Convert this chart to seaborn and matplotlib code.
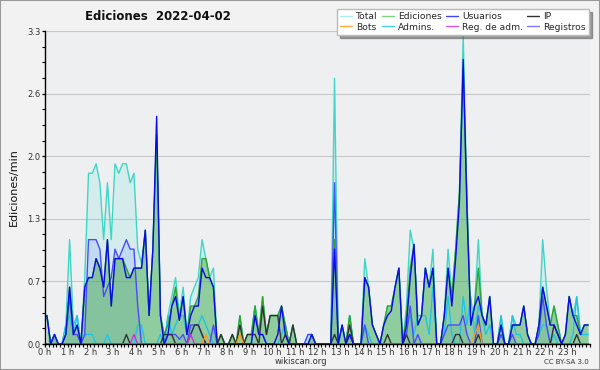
import numpy as np
import pandas as pd
import matplotlib
matplotlib.use("Agg")
import matplotlib.pyplot as plt
from matplotlib.lines import Line2D
from matplotlib.patches import Rectangle
from matplotlib.ticker import FixedLocator, MultipleLocator
import seaborn as sns

# 10-minute bins, 144 per day (values in edits/min)
total = [
    0.3, 0.0, 0.1, 0.0, 0.0, 0.2,
    1.1, 0.2, 0.3, 0.0, 0.7, 1.8,
    1.8, 1.9, 1.7, 1.1, 1.7, 1.1,
    1.9, 1.8, 1.9, 1.9, 1.7, 1.8,
    1.0, 0.85, 1.2, 0.3, 1.0, 2.2,
    0.3, 0.0, 0.3, 0.5, 0.7, 0.3,
    0.6, 0.1, 0.5, 0.6, 0.7, 1.1,
    0.9, 0.7, 0.8, 0.0, 0.1, 0.0,
    0.0, 0.1, 0.0, 0.3, 0.0, 0.1,
    0.1, 0.4, 0.1, 0.5, 0.1, 0.3,
    0.3, 0.3, 0.4, 0.2, 0.0, 0.2,
    0.0, 0.0, 0.0, 0.1, 0.1, 0.0,
    0.0, 0.0, 0.0, 0.0, 2.8, 0.0,
    0.2, 0.0, 0.3, 0.0, 0.0, 0.0,
    0.9, 0.6, 0.2, 0.1, 0.0, 0.2,
    0.4, 0.4, 0.6, 0.8, 0.0, 0.4,
    1.2, 1.0, 0.3, 0.3, 0.8, 0.6,
    1.0, 0.0, 0.0, 0.3, 1.0, 0.5,
    1.0, 1.6, 3.25, 1.5, 0.2, 0.4,
    1.1, 0.3, 0.2, 0.5, 0.0, 0.0,
    0.3, 0.0, 0.0, 0.3, 0.2, 0.2,
    0.4, 0.1, 0.0, 0.0, 0.2, 1.1,
    0.6, 0.2, 0.4, 0.2, 0.0, 0.1,
    0.5, 0.3, 0.5, 0.1, 0.2, 0.2,
]
ediciones = [
    0.3, 0.0, 0.1, 0.0, 0.0, 0.1,
    0.6, 0.1, 0.2, 0.0, 0.6, 0.7,
    0.7, 0.9, 0.8, 0.6, 1.1, 0.4,
    0.9, 0.9, 0.9, 0.8, 0.7, 0.8,
    0.8, 0.8, 1.2, 0.3, 1.0, 2.2,
    0.3, 0.1, 0.2, 0.4, 0.6, 0.25,
    0.5, 0.1, 0.4, 0.4, 0.5, 0.9,
    0.9, 0.7, 0.6, 0.0, 0.1, 0.0,
    0.0, 0.1, 0.0, 0.3, 0.0, 0.1,
    0.1, 0.4, 0.1, 0.5, 0.1, 0.3,
    0.3, 0.3, 0.4, 0.2, 0.0, 0.2,
    0.0, 0.0, 0.0, 0.0, 0.1, 0.0,
    0.0, 0.0, 0.0, 0.0, 1.1, 0.0,
    0.2, 0.0, 0.3, 0.0, 0.0, 0.0,
    0.7, 0.6, 0.2, 0.1, 0.0, 0.2,
    0.4, 0.4, 0.6, 0.8, 0.0, 0.3,
    0.8, 1.05, 0.2, 0.3, 0.8, 0.6,
    0.8, 0.0, 0.0, 0.3, 0.8, 0.5,
    1.0, 1.6, 2.9, 1.5, 0.2, 0.4,
    0.8, 0.3, 0.2, 0.5, 0.0, 0.0,
    0.2, 0.0, 0.0, 0.2, 0.2, 0.2,
    0.4, 0.1, 0.0, 0.0, 0.2, 0.6,
    0.4, 0.2, 0.4, 0.2, 0.0, 0.1,
    0.5, 0.3, 0.3, 0.1, 0.2, 0.2,
]
usuarios = [
    0.3, 0.0, 0.1, 0.0, 0.0, 0.1,
    0.6, 0.1, 0.2, 0.0, 0.6, 0.7,
    0.7, 0.9, 0.8, 0.6, 1.1, 0.4,
    0.9, 0.9, 0.9, 0.7, 0.7, 0.8,
    0.8, 0.8, 1.2, 0.3, 1.0, 2.4,
    0.3, 0.0, 0.1, 0.4, 0.5, 0.25,
    0.5, 0.1, 0.3, 0.4, 0.4, 0.8,
    0.7, 0.7, 0.6, 0.0, 0.0, 0.0,
    0.0, 0.0, 0.0, 0.0, 0.0, 0.0,
    0.0, 0.3, 0.1, 0.1, 0.0, 0.0,
    0.0, 0.1, 0.4, 0.1, 0.0, 0.0,
    0.0, 0.0, 0.0, 0.0, 0.1, 0.0,
    0.0, 0.0, 0.0, 0.0, 1.0, 0.0,
    0.2, 0.0, 0.1, 0.0, 0.0, 0.0,
    0.7, 0.6, 0.2, 0.1, 0.0, 0.2,
    0.3, 0.35, 0.6, 0.8, 0.0, 0.2,
    0.7, 1.05, 0.2, 0.3, 0.8, 0.6,
    0.8, 0.0, 0.0, 0.3, 0.8, 0.4,
    0.9, 1.5, 3.0, 1.4, 0.2, 0.4,
    0.5, 0.3, 0.2, 0.5, 0.0, 0.0,
    0.2, 0.0, 0.0, 0.2, 0.2, 0.2,
    0.4, 0.1, 0.0, 0.0, 0.2, 0.6,
    0.4, 0.2, 0.2, 0.1, 0.0, 0.1,
    0.5, 0.3, 0.2, 0.1, 0.2, 0.2,
]
ip = [
    0.0, 0.0, 0.0, 0.0, 0.0, 0.0,
    0.0, 0.0, 0.0, 0.0, 0.0, 0.0,
    0.0, 0.0, 0.0, 0.0, 0.0, 0.0,
    0.0, 0.0, 0.0, 0.1, 0.0, 0.0,
    0.0, 0.0, 0.0, 0.0, 0.0, 0.0,
    0.0, 0.1, 0.1, 0.1, 0.0, 0.0,
    0.0, 0.0, 0.1, 0.2, 0.2, 0.1,
    0.0, 0.0, 0.0, 0.0, 0.1, 0.0,
    0.0, 0.1, 0.0, 0.2, 0.0, 0.1,
    0.1, 0.1, 0.0, 0.4, 0.1, 0.3,
    0.3, 0.3, 0.0, 0.1, 0.0, 0.2,
    0.0, 0.0, 0.0, 0.0, 0.0, 0.0,
    0.0, 0.0, 0.0, 0.0, 0.1, 0.0,
    0.0, 0.0, 0.2, 0.0, 0.0, 0.0,
    0.0, 0.0, 0.0, 0.0, 0.0, 0.0,
    0.1, 0.0, 0.0, 0.0, 0.0, 0.1,
    0.0, 0.0, 0.0, 0.0, 0.0, 0.0,
    0.0, 0.0, 0.0, 0.0, 0.0, 0.0,
    0.1, 0.1, 0.0, 0.0, 0.0, 0.0,
    0.1, 0.0, 0.0, 0.0, 0.0, 0.0,
    0.0, 0.0, 0.0, 0.0, 0.0, 0.0,
    0.0, 0.0, 0.0, 0.0, 0.0, 0.0,
    0.0, 0.0, 0.2, 0.1, 0.0, 0.0,
    0.0, 0.0, 0.1, 0.0, 0.0, 0.0,
]
bots = [0.0] * 42 + [0.1] + [0.0] * 8 + [0.1] + [0.0] * 61 + [0.1, 0.2] + [0.0] * 29
admins = [
    0.3, 0.0, 0.0, 0.0, 0.0, 0.2,
    0.3, 0.1, 0.3, 0.0, 0.1, 0.1,
    0.1, 0.0, 0.0, 0.0, 0.1, 0.0,
    0.0, 0.0, 0.0, 0.0, 0.0, 0.0,
    0.2, 0.2, 0.0, 0.0, 0.0, 0.0,
    0.1, 0.0, 0.3, 0.1, 0.2, 0.3,
    0.3, 0.1, 0.1, 0.2, 0.2, 0.3,
    0.2, 0.1, 0.0, 0.0, 0.0, 0.0,
    0.0, 0.0, 0.0, 0.0, 0.0, 0.0,
    0.0, 0.4, 0.1, 0.1, 0.0, 0.0,
    0.0, 0.0, 0.1, 0.2, 0.0, 0.0,
    0.0, 0.0, 0.0, 0.0, 0.0, 0.0,
    0.0, 0.0, 0.0, 0.0, 0.1, 0.0,
    0.0, 0.0, 0.3, 0.0, 0.0, 0.0,
    0.2, 0.1, 0.0, 0.0, 0.0, 0.0,
    0.0, 0.0, 0.0, 0.0, 0.0, 0.2,
    0.3, 0.1, 0.3, 0.3, 0.3, 0.1,
    0.6, 0.0, 0.0, 0.1, 0.5, 0.1,
    0.0, 0.0, 0.5, 0.2, 0.5, 0.1,
    0.4, 0.3, 0.1, 0.2, 0.0, 0.0,
    0.3, 0.0, 0.0, 0.3, 0.1, 0.1,
    0.0, 0.0, 0.0, 0.0, 0.1, 0.2,
    0.2, 0.0, 0.1, 0.0, 0.0, 0.0,
    0.0, 0.1, 0.5, 0.1, 0.1, 0.1,
]
reg_adm = [0.0] * 23 + [0.1] + [0.0] * 14 + [0.1] + [0.0] * 105
registros = [
    0.0, 0.0, 0.1, 0.0, 0.0, 0.1,
    0.5, 0.1, 0.1, 0.0, 0.1, 1.1,
    1.1, 1.1, 1.0, 0.5, 0.6, 0.7,
    1.0, 0.9, 1.0, 1.1, 1.0, 1.0,
    0.4, 0.0, 0.0, 0.0, 0.0, 0.0,
    0.0, 0.0, 0.1, 0.1, 0.1, 0.05,
    0.1, 0.0, 0.2, 0.2, 0.2, 0.1,
    0.0, 0.0, 0.2, 0.0, 0.0, 0.0,
    0.0, 0.0, 0.0, 0.0, 0.0, 0.0,
    0.0, 0.0, 0.0, 0.0, 0.0, 0.0,
    0.0, 0.0, 0.0, 0.0, 0.0, 0.0,
    0.0, 0.0, 0.0, 0.1, 0.1, 0.0,
    0.0, 0.0, 0.0, 0.0, 1.7, 0.0,
    0.0, 0.0, 0.1, 0.0, 0.0, 0.0,
    0.2, 0.0, 0.0, 0.0, 0.0, 0.0,
    0.0, 0.0, 0.0, 0.0, 0.0, 0.1,
    0.4, 0.0, 0.1, 0.0, 0.0, 0.0,
    0.0, 0.0, 0.0, 0.1, 0.2, 0.2,
    0.2, 0.2, 0.3, 0.1, 0.0, 0.0,
    0.3, 0.0, 0.0, 0.0, 0.0, 0.0,
    0.1, 0.0, 0.0, 0.1, 0.0, 0.0,
    0.0, 0.0, 0.0, 0.0, 0.1, 0.5,
    0.2, 0.0, 0.0, 0.0, 0.0, 0.0,
    0.0, 0.0, 0.0, 0.0, 0.0, 0.0,
]
hour_labels = [f"{h} h" for h in range(24)]
y_ticks = [0.0, 0.66, 1.32, 1.98, 2.64, 3.3]
y_labels = ["0.0", "0.7", "1.3", "2.0", "2.6", "3.3"]

hours = (np.arange(len(total)) + 0.5) / 6.0
df = pd.DataFrame({
    "hora": hours, "Total": total, "Ediciones": ediciones, "Usuarios": usuarios,
    "IP": ip, "Bots": bots, "Admins.": admins, "Reg. de adm.": reg_adm,
    "Registros": registros,
})

sns.set_style("ticks")
plt.rcParams["font.family"] = ["DejaVu Sans"]

fig = plt.figure(figsize=(6.0, 3.7), dpi=100, facecolor="#f2f2f2")
ax = fig.add_axes([45 / 600, 1 - 344 / 370, 545 / 600, 313 / 370])
ax.set_facecolor("#eeeff1")

line_colors = {
    "Total": "#3fd6c6", "Ediciones": "#2fa32f", "Usuarios": "#0a0ae6",
    "IP": "#333333", "Bots": "#ff9a1a", "Admins.": "#22c4e4",
    "Reg. de adm.": "#d030d8", "Registros": "#4a4aff",
}
legend_colors = {
    "Total": "#aaeee6", "Ediciones": "#7fd27f", "Usuarios": "#4444ff",
    "IP": "#333333", "Bots": "#ffaa44", "Admins.": "#44d4ee",
    "Reg. de adm.": "#e055e8", "Registros": "#7777ff",
}

ax.fill_between(df["hora"], 0, df["Total"], color="#40e0d0", alpha=0.15, lw=0)
ax.fill_between(df["hora"], 0, df["Registros"], color="#6a8cff", alpha=0.18, lw=0)
ax.fill_between(df["hora"], 0, df["Ediciones"], color="#3fa83f", alpha=0.45, lw=0)

for name in ["Total", "Admins.", "Registros", "Ediciones", "IP", "Bots",
             "Reg. de adm.", "Usuarios"]:
    sns.lineplot(data=df, x="hora", y=name, ax=ax, color=line_colors[name],
                 lw=1.0, legend=False)

ax.set_xlim(0, 24)
ax.set_ylim(0, 3.3)
ax.yaxis.set_major_locator(FixedLocator(y_ticks))
ax.set_yticklabels(y_labels)
ax.yaxis.set_minor_locator(MultipleLocator(0.165))
ax.xaxis.set_major_locator(FixedLocator(list(range(24))))
ax.set_xticklabels(hour_labels)
ax.xaxis.set_minor_locator(MultipleLocator(1 / 6))
ax.grid(axis="y", which="major", color="#c8c8c8", lw=0.8)
ax.set_axisbelow(True)
for s in ["top", "right"]:
    ax.spines[s].set_visible(False)
for s in ["left", "bottom"]:
    ax.spines[s].set_color("black")
    ax.spines[s].set_linewidth(1.0)
ax.tick_params(axis="both", which="both", direction="out", color="black",
               labelsize=6, labelcolor="#333333", pad=0.5)
ax.tick_params(axis="both", which="major", length=2.5, width=0.9)
ax.tick_params(axis="both", which="minor", length=2.2, width=0.8)
ax.set_xlabel("")
ax.set_ylabel("Ediciones/min", fontsize=8, labelpad=6, color="#111111")

fig.text(85 / 600, 1 - 17 / 370, "Ediciones  2022-04-02", ha="left", va="center",
         fontsize=8.5, fontweight="bold", color="#111111")
fig.text(301 / 600, 1 - 362 / 370, "wikiscan.org", ha="center", va="center",
         fontsize=6, color="#333333")
fig.text(589 / 600, 1 - 362 / 370, "CC BY-SA 3.0", ha="right", va="center",
         fontsize=5, color="#333333")

order = ["Total", "Ediciones", "Usuarios", "IP", "Bots", "Admins.",
         "Reg. de adm.", "Registros"]
handles = [Line2D([], [], color=legend_colors[n], lw=1.0) for n in order]
# column-major order for ncol=4 with 2 rows
col_order = [0, 4, 1, 5, 2, 6, 3, 7]
leg = fig.legend([handles[i] for i in col_order], [order[i] for i in col_order],
                 ncol=4, loc="upper right", bbox_to_anchor=(589 / 600, 1 - 9 / 370),
                 fontsize=6.6, frameon=True, fancybox=False, shadow=True,
                 handlelength=1.3, handletextpad=0.45, columnspacing=0.45,
                 labelspacing=0.15, borderpad=0.35, borderaxespad=0)
leg.get_frame().set_edgecolor("#bbbbbb")
leg.get_frame().set_facecolor("white")
leg.get_frame().set_alpha(1)

fig.patches.append(Rectangle((0, 0), 1, 1, transform=fig.transFigure, fill=False,
                             edgecolor="#9a9a9a", lw=1.5))

fig.savefig("out.png", dpi=100, facecolor=fig.get_facecolor())
